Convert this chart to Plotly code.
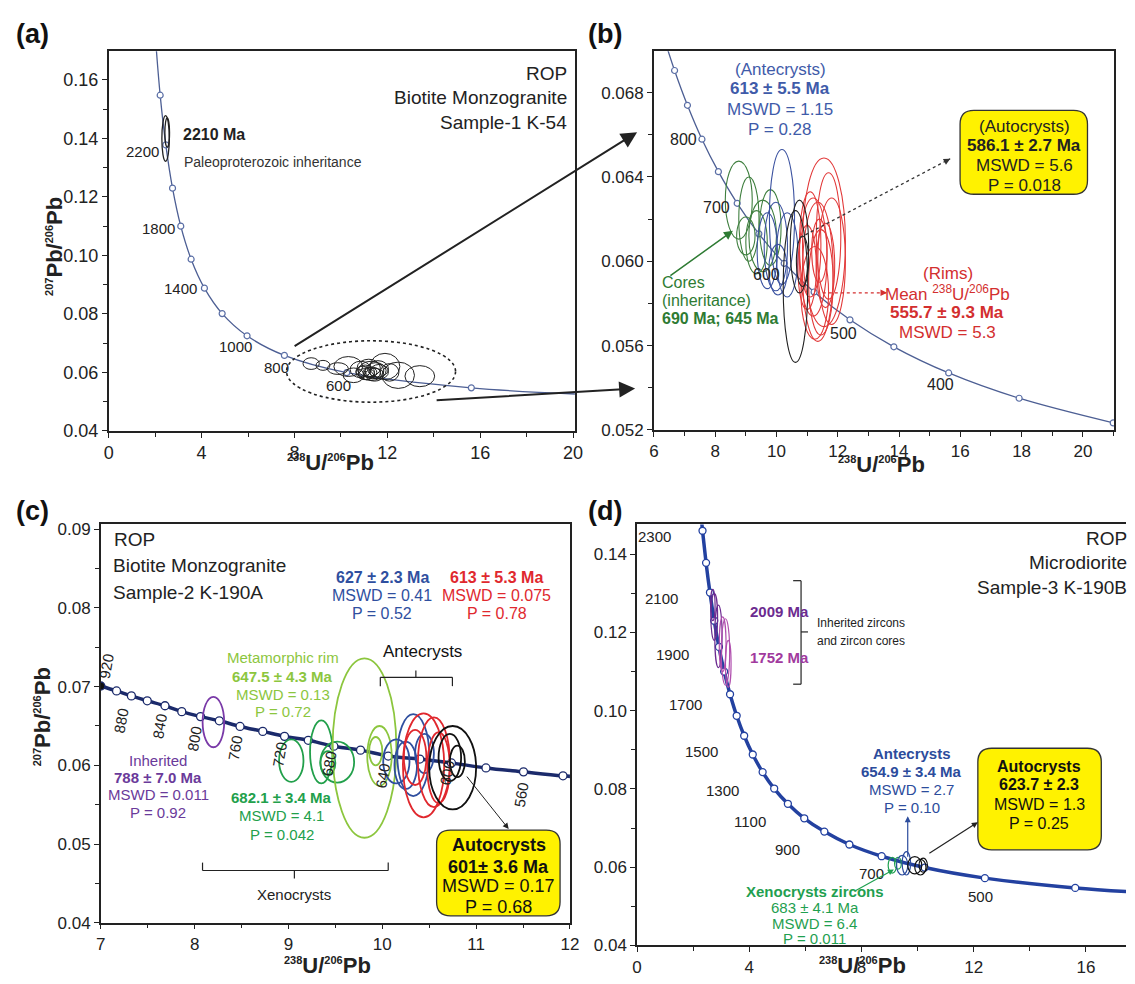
import plotly.graph_objects as go

W, H = 1135, 984
FONT = "Arial, Liberation Sans, Helvetica, sans-serif"

# ---------------- concordia reference points: age (Ma), 238U/206Pb, 207Pb/206Pb ----------------
conc_a_age = [2600, 2400, 2200, 2000, 1800, 1600, 1400, 1200, 1000, 800, 600, 400, 300]
conc_a_x = [2.013, 2.217, 2.459, 2.749, 3.104, 3.550, 4.123, 4.887, 5.959, 7.568, 10.252, 15.62, 20.99]
conc_a_y = [0.1744, 0.1548, 0.1378, 0.1230, 0.1100, 0.0987, 0.0888, 0.0801, 0.0725, 0.0658, 0.0599, 0.0547, 0.0523]

conc_b_age = [950, 900, 850, 800, 750, 700, 650, 600, 550, 500, 450, 400, 350, 300]
conc_b_x = [6.298, 6.675, 7.095, 7.568, 8.105, 8.718, 9.426, 10.252, 11.228, 12.399, 13.831, 15.62, 17.92, 20.99]
conc_b_y = [0.07074, 0.06905, 0.06740, 0.06579, 0.06425, 0.06275, 0.06130, 0.05990, 0.05854,
            0.05722, 0.05594, 0.05470, 0.05350, 0.05233]

conc_c_age = [920, 900, 880, 860, 840, 820, 800, 780, 760, 740, 720, 700, 680, 660, 640, 620, 600, 580, 560, 540, 520]
conc_c_x = [7.000, 7.168, 7.326, 7.495, 7.684, 7.863, 8.063, 8.263, 8.484, 8.726, 8.958, 9.211, 9.484,
            9.768, 10.063, 10.400, 10.737, 11.105, 11.505, 11.926, 12.350]
conc_c_y = [0.07008, 0.06945, 0.06882, 0.06820, 0.06757, 0.06682, 0.06619, 0.06566, 0.06494, 0.06431,
            0.06368, 0.06318, 0.06243, 0.06193, 0.06118, 0.06080, 0.06030, 0.05967, 0.05917, 0.05867, 0.05830]

conc_d_age = [2500, 2400, 2300, 2200, 2100, 2000, 1900, 1800, 1700, 1600, 1500, 1400, 1300, 1200,
              1100, 1000, 900, 800, 700, 600, 500, 400, 300]
conc_d_x = [2.111, 2.217, 2.332, 2.459, 2.597, 2.749, 2.917, 3.104, 3.314, 3.550, 3.817, 4.123, 4.475,
            4.887, 5.375, 5.959, 6.675, 7.568, 8.718, 10.252, 12.399, 15.62, 20.99]
conc_d_y = [0.1643, 0.1548, 0.1460, 0.1378, 0.1302, 0.1230, 0.1163, 0.1100, 0.1042, 0.0987, 0.0936,
            0.0888, 0.0843, 0.0801, 0.0762, 0.0725, 0.0691, 0.0658, 0.0628, 0.0599, 0.0572, 0.0547, 0.0523]

# ---------------- error ellipses: centre x, centre y, half-width, half-height ----------------
# (a) Sample-1 K-54
a_inh_cx = [2.45, 2.52]
a_inh_cy = [0.1400, 0.1420]
a_inh_rx = [0.16, 0.10]
a_inh_ry = [0.0078, 0.0050]

a_cx = [8.72, 9.23, 9.87, 10.32, 10.55, 10.85, 11.05, 11.20, 11.35, 11.50, 11.65, 11.10, 11.30, 11.45,
        11.90, 12.47, 13.40, 10.95, 11.60, 11.25, 12.10]
a_cy = [0.0630, 0.0624, 0.0613, 0.0620, 0.0590, 0.0610, 0.0600, 0.0615, 0.0598, 0.0606, 0.0602, 0.0595,
        0.0605, 0.0592, 0.0620, 0.0590, 0.0587, 0.0603, 0.0612, 0.0600, 0.0600]
a_rx = [0.35, 0.30, 0.45, 0.62, 0.45, 0.45, 0.40, 0.50, 0.35, 0.45, 0.40, 0.35, 0.55, 0.40, 0.64, 0.70,
        0.64, 0.30, 0.45, 0.30, 0.40]
a_ry = [0.0020, 0.0017, 0.0020, 0.0034, 0.0025, 0.0028, 0.0025, 0.0030, 0.0020, 0.0027, 0.0025, 0.0020,
        0.0033, 0.0022, 0.0045, 0.0045, 0.0036, 0.0018, 0.0028, 0.0018, 0.0030]

# (b) zoom of Sample-1
b_core_cx = [8.77, 9.10, 9.55, 9.00, 9.35, 9.80]
b_core_cy = [0.0629, 0.0620, 0.0612, 0.0612, 0.0609, 0.0616]
b_core_rx = [0.44, 0.33, 0.45, 0.30, 0.35, 0.35]
b_core_ry = [0.00185, 0.0020, 0.0017, 0.0009, 0.0015, 0.0018]

b_ante_cx = [10.18, 9.98, 9.70, 10.35, 10.05]
b_ante_cy = [0.0621, 0.0607, 0.0605, 0.0603, 0.0596]
b_ante_rx = [0.41, 0.38, 0.33, 0.35, 0.30]
b_ante_ry = [0.0032, 0.0021, 0.0018, 0.0020, 0.0012]

b_auto_cx = [10.62, 10.75, 10.85]
b_auto_cy = [0.0588, 0.0607, 0.0600]
b_auto_rx = [0.40, 0.30, 0.20]
b_auto_ry = [0.0036, 0.0022, 0.0012]

b_rim_cx = [11.55, 11.80, 11.20, 11.35, 11.10, 11.45, 11.60, 11.00, 11.25, 11.70, 11.40]
b_rim_cy = [0.0609, 0.0600, 0.0602, 0.0595, 0.0608, 0.0590, 0.0598, 0.0597, 0.0585, 0.0612, 0.0605]
b_rim_rx = [0.70, 0.45, 0.45, 0.50, 0.35, 0.40, 0.30, 0.30, 0.45, 0.40, 0.25]
b_rim_ry = [0.0040, 0.0030, 0.0028, 0.0033, 0.0025, 0.0025, 0.0020, 0.0020, 0.0022, 0.0030, 0.0015]

# (c) Sample-2 K-190A
c_inh_cx, c_inh_cy, c_inh_rx, c_inh_ry = [8.20], [0.0655], [0.115], [0.0032]
c_xen_cx = [9.03, 9.35, 9.52, 9.42]
c_xen_cy = [0.0606, 0.0617, 0.0604, 0.0603]
c_xen_rx = [0.13, 0.12, 0.18, 0.08]
c_xen_ry = [0.0027, 0.0040, 0.0026, 0.0015]
c_met_cx = [9.81, 9.97, 9.93]
c_met_cy = [0.0622, 0.0612, 0.0618]
c_met_rx = [0.34, 0.13, 0.07]
c_met_ry = [0.0114, 0.0038, 0.0018]
c_bl_cx = [10.15, 10.33, 10.25, 10.45]
c_bl_cy = [0.0605, 0.0613, 0.0600, 0.0615]
c_bl_rx = [0.14, 0.17, 0.12, 0.10]
c_bl_ry = [0.0028, 0.0052, 0.0030, 0.0025]
c_rd_cx = [10.44, 10.55, 10.35, 10.60]
c_rd_cy = [0.0600, 0.0604, 0.0610, 0.0597]
c_rd_rx = [0.22, 0.17, 0.12, 0.12]
c_rd_ry = [0.0066, 0.0057, 0.0035, 0.0045]
c_au_cx = [10.75, 10.72, 10.80]
c_au_cy = [0.0597, 0.0610, 0.0605]
c_au_rx = [0.25, 0.12, 0.08]
c_au_ry = [0.0053, 0.0030, 0.0020]

# (d) Sample-3 K-190B
d_p1_cx = [2.75, 2.90, 2.70]
d_p1_cy = [0.1240, 0.1190, 0.1270]
d_p1_rx = [0.12, 0.13, 0.08]
d_p1_ry = [0.0060, 0.0080, 0.0040]
d_p2_cx = [3.05, 3.15, 3.25]
d_p2_cy = [0.1170, 0.1150, 0.1120]
d_p2_rx = [0.12, 0.15, 0.10]
d_p2_ry = [0.0070, 0.0085, 0.0060]
d_xen_cx = [9.10, 9.30]
d_xen_cy = [0.0605, 0.0610]
d_xen_rx = [0.15, 0.12]
d_xen_ry = [0.0020, 0.0015]
d_ant_cx = [9.45, 9.60]
d_ant_cy = [0.0605, 0.0610]
d_ant_rx = [0.20, 0.15]
d_ant_ry = [0.0025, 0.0030]
d_aut_cx = [9.90, 10.10, 10.20]
d_aut_cy = [0.0605, 0.0600, 0.0605]
d_aut_rx = [0.25, 0.20, 0.15]
d_aut_ry = [0.0022, 0.0020, 0.0018]

# ---------------------------------------------------------------------------------------------
fig = go.Figure()
shapes, annots = [], []


def P(xp, yp):
    """pixel position on the page -> paper coordinates"""
    return xp / W, 1 - yp / H


def ellipses(ax, cx, cy, rx, ry, color, width=1.2, dash=None):
    for x, y, a, b in zip(cx, cy, rx, ry):
        shapes.append(dict(type="circle", xref="x" + ax, yref="y" + ax,
                           x0=x - a, x1=x + a, y0=y - b, y1=y + b,
                           line=dict(color=color, width=width, dash=dash)))


def text(xp, yp, s, size=17, color="#222", bold=False, anchor="center", angle=0):
    x, y = P(xp, yp)
    annots.append(dict(xref="paper", yref="paper", x=x, y=y, text=f"<b>{s}</b>" if bold else s,
                       showarrow=False, xanchor=anchor, yanchor="middle", textangle=angle,
                       font=dict(family=FONT, size=size, color=color)))


def arrow(x0, y0, x1, y1, color="#222", width=1.2, head=2, size=1.0):
    x, y = P(x1, y1)
    annots.append(dict(xref="paper", yref="paper", x=x, y=y, ax=x0 - x1, ay=y0 - y1,
                       axref="pixel", ayref="pixel", text="", showarrow=True, arrowhead=head,
                       arrowsize=size, arrowwidth=width, arrowcolor=color, standoff=0))


def dotted_arrow(x0, y0, x1, y1, color, size=1.0):
    a, b = P(x0, y0)
    c, d = P(x1, y1)
    shapes.append(dict(type="line", xref="paper", yref="paper", x0=a, y0=b, x1=c, y1=d,
                       line=dict(color=color, width=1.3, dash="dot")))
    L = ((x1 - x0) ** 2 + (y1 - y0) ** 2) ** 0.5
    ux, uy = (x1 - x0) / L, (y1 - y0) / L
    arrow(x1 - 6 * ux, y1 - 6 * uy, x1, y1, color, 1.3, 2, size)


def seg(x0, y0, x1, y1, color="#222", width=1.2):
    a, b = P(x0, y0)
    c, d = P(x1, y1)
    shapes.append(dict(type="line", xref="paper", yref="paper", x0=a, y0=b, x1=c, y1=d,
                       line=dict(color=color, width=width)))


def rbox(x0, y0, x1, y1, r=12, fill="#fff200"):
    def p(x, y):
        u, v = P(x, y)
        return f"{u:.5f},{v:.5f}"
    path = (f"M {p(x0 + r, y0)} L {p(x1 - r, y0)} Q {p(x1, y0)} {p(x1, y0 + r)} "
            f"L {p(x1, y1 - r)} Q {p(x1, y1)} {p(x1 - r, y1)} L {p(x0 + r, y1)} "
            f"Q {p(x0, y1)} {p(x0, y1 - r)} L {p(x0, y0 + r)} Q {p(x0, y0)} {p(x0 + r, y0)} Z")
    shapes.append(dict(type="path", xref="paper", yref="paper", path=path,
                       fillcolor=fill, line=dict(color="#333", width=1.3)))


def age_labels(ax, ages, xs, ys, offsets, size=15, angle=0):
    for age, x, y in zip(ages, xs, ys):
        if age in offsets:
            dx, dy, anc = offsets[age]
            annots.append(dict(xref="x" + ax, yref="y" + ax, x=x, y=y, text=str(age), showarrow=False,
                               xanchor=anc, yanchor="middle", xshift=dx, yshift=-dy, textangle=angle,
                               font=dict(family=FONT, size=size, color="#222")))


# ---------------- concordia curves ----------------
fig.add_trace(go.Scatter(x=conc_a_x, y=conc_a_y, xaxis="x", yaxis="y", mode="lines+markers",
                         line=dict(color="#4d5f94", width=1.3, shape="spline"),
                         marker=dict(size=6, color="white", line=dict(color="#5b6fa6", width=1.2)),
                         hoverinfo="skip"))
fig.add_trace(go.Scatter(x=conc_b_x, y=conc_b_y, xaxis="x2", yaxis="y2", mode="lines+markers",
                         line=dict(color="#4d5f94", width=1.3, shape="spline"),
                         marker=dict(size=6, color="white", line=dict(color="#5b6fa6", width=1.2)),
                         hoverinfo="skip"))
fig.add_trace(go.Scatter(x=conc_c_x, y=conc_c_y, xaxis="x3", yaxis="y3", mode="lines+markers",
                         line=dict(color="#1b2a6b", width=3.5, shape="spline"),
                         marker=dict(size=8, color=["#111"] + ["white"] * (len(conc_c_x) - 1),
                                     line=dict(color="#1b2a6b", width=1.3)),
                         hoverinfo="skip"))
fig.add_trace(go.Scatter(x=conc_d_x, y=conc_d_y, xaxis="x4", yaxis="y4", mode="lines+markers",
                         line=dict(color="#2341a0", width=3.5, shape="spline"),
                         marker=dict(size=7, color="white", line=dict(color="#2341a0", width=1.3)),
                         hoverinfo="skip"))

# ---------------- ellipses ----------------
ellipses("", a_inh_cx, a_inh_cy, a_inh_rx, a_inh_ry, "#222", 1.3)
ellipses("", a_cx, a_cy, a_rx, a_ry, "#222", 1.0)
ellipses("", [11.3], [0.0603], [3.64], [0.0105], "#222", 1.6, "dot")

ellipses("2", b_core_cx, b_core_cy, b_core_rx, b_core_ry, "#3f7f3f", 1.1)
ellipses("2", b_ante_cx, b_ante_cy, b_ante_rx, b_ante_ry, "#3b52a0", 1.1)
ellipses("2", b_rim_cx, b_rim_cy, b_rim_rx, b_rim_ry, "#e23a3a", 1.1)
ellipses("2", b_auto_cx, b_auto_cy, b_auto_rx, b_auto_ry, "#222", 1.1)

ellipses("3", c_inh_cx, c_inh_cy, c_inh_rx, c_inh_ry, "#7a3aa8", 1.8)
ellipses("3", c_xen_cx, c_xen_cy, c_xen_rx, c_xen_ry, "#22a04b", 1.8)
ellipses("3", c_met_cx, c_met_cy, c_met_rx, c_met_ry, "#8cc63e", 1.8)
ellipses("3", c_bl_cx, c_bl_cy, c_bl_rx, c_bl_ry, "#2f4f9f", 1.8)
ellipses("3", c_rd_cx, c_rd_cy, c_rd_rx, c_rd_ry, "#e0282e", 1.8)
ellipses("3", c_au_cx, c_au_cy, c_au_rx, c_au_ry, "#111", 1.8)

ellipses("4", d_p1_cx, d_p1_cy, d_p1_rx, d_p1_ry, "#6c2b90", 1.2)
ellipses("4", d_p2_cx, d_p2_cy, d_p2_rx, d_p2_ry, "#b04fae", 1.2)
ellipses("4", d_xen_cx, d_xen_cy, d_xen_rx, d_xen_ry, "#1fa050", 1.2)
ellipses("4", d_ant_cx, d_ant_cy, d_ant_rx, d_ant_ry, "#2c4c9c", 1.2)
ellipses("4", d_aut_cx, d_aut_cy, d_aut_rx, d_aut_ry, "#111", 1.2)

# ---------------- concordia age labels ----------------
age_labels("", conc_a_age, conc_a_x, conc_a_y,
           {2200: (-5, 7, "right"), 1800: (-4, 2, "right"), 1400: (-5, 0, "right"),
            1000: (-12, 11, "center"), 800: (-8, 12, "center"), 600: (-8, 13, "center")}, 15)
age_labels("2", conc_b_age, conc_b_x, conc_b_y,
           {800: (-3, 0, "right"), 700: (-5, 4, "right"), 600: (-2, 11, "right"),
            500: (-6, 14, "center"), 400: (-8, 12, "center")}, 16)
age_labels("3", conc_c_age, conc_c_x, conc_c_y,
           {920: (6, -20, "center"), 880: (-10, 25, "center"), 840: (-5, 20, "center"),
            800: (-6, 22, "center"), 760: (-5, 22, "center"), 720: (-5, 18, "center"),
            680: (-5, 17, "center"), 640: (-6, 20, "center"), 600: (-4, 10, "center"),
            560: (-2, 23, "center")}, 15, -80)
age_labels("4", conc_d_age, conc_d_x, conc_d_y,
           {2300: (-30, 6, "right"), 2100: (-30, 6, "right"), 1900: (-28, 8, "right"),
            1700: (-26, 10, "right"), 1500: (-24, 16, "right"), 1300: (-22, 18, "right"),
            1100: (-20, 18, "right"), 900: (-22, 18, "right"), 700: (-10, 17, "center"),
            500: (-4, 18, "center")}, 15)

# ---------------- panel (a) text ----------------
text(28, 30, "(a)", 27, "#111", True)
text(178, 132, "2210 Ma", 16, "#222", True, "left")
text(179, 160, "Paleoproterozoic inheritance", 14, "#333", False, "left")
text(571, 70, "ROP", 19, "#222", False, "right")
text(571, 95, "Biotite Monzogranite", 19, "#222", False, "right")
text(571, 120, "Sample-1 K-54", 19, "#222", False, "right")
arrow(296, 345, 640, 130, "#222", 2, 2, 1.6)
arrow(438, 402, 638, 390, "#222", 2, 2, 1.6)

# ---------------- panel (b) text ----------------
text(607, 30, "(b)", 27, "#111", True)
BL, RD, GR = "#3f5ba9", "#d32f2f", "#2e7b33"
text(785, 66, "(Antecrysts)", 17, BL)
text(785, 86, "613 ± 5.5 Ma", 17, BL, True)
text(785, 107, "MSWD = 1.15", 17, BL)
text(785, 127, "P = 0.28", 17, BL)
rbox(967, 108, 1096, 193, 14)
text(1032, 124, "(Autocrysts)", 17, "#222")
text(1032, 144, "586.1 ± 2.7 Ma", 17, "#222", True)
text(1032, 164, "MSWD = 5.6", 17, "#222")
text(1032, 184, "P = 0.018", 17, "#222")
dotted_arrow(805, 237, 957, 157, "#333")
dotted_arrow(828, 293, 893, 293, RD)
text(955, 273, "(Rims)", 17, RD)
text(954, 293, "Mean <sup>238</sup>U/<sup>206</sup>Pb", 17, RD)
text(954, 313, "555.7 ± 9.3 Ma", 17, RD, True)
text(954, 333, "MSWD = 5.3", 17, RD)
text(663, 283, "Cores", 16, GR, False, "left")
text(663, 301, "(inheritance)", 16, GR, False, "left")
text(663, 319, "690 Ma; 645 Ma", 16, GR, True, "left")
arrow(673, 276, 737, 230, GR, 1.5, 2, 1.2)

# ---------------- panel (c) text ----------------
text(28, 514, "(c)", 27, "#111", True)
text(108, 543, "ROP", 19, "#222", False, "left")
text(107, 570, "Biotite Monzogranite", 19, "#222", False, "left")
text(107, 597, "Sample-2 K-190A", 19, "#222", False, "left")
CB, CR, LG, CG, PU = "#2f4f9f", "#e0282e", "#8cc63e", "#22a04b", "#6a3a9a"
text(382, 582, "627 ± 2.3 Ma", 16, CB, True)
text(382, 600, "MSWD = 0.41", 16, CB)
text(382, 618, "P = 0.52", 16, CB)
text(498, 582, "613 ± 5.3 Ma", 16, CR, True)
text(498, 600, "MSWD = 0.075", 16, CR)
text(498, 618, "P = 0.78", 16, CR)
text(423, 657, "Antecrysts", 17, "#111")
seg(380, 683, 453, 683)
seg(380, 683, 380, 692)
seg(453, 683, 453, 692)
seg(416, 683, 416, 676)
text(281, 663, "Metamorphic rim", 15, LG)
text(281, 682, "647.5 ± 4.3 Ma", 15, LG, True)
text(281, 700, "MSWD = 0.13", 15, LG)
text(281, 718, "P = 0.72", 15, LG)
text(155, 767, "Inherited", 15, PU)
text(155, 785, "788 ± 7.0 Ma", 15, PU, True)
text(155, 802, "MSWD = 0.011", 15, PU)
text(155, 820, "P = 0.92", 15, PU)
text(280, 805, "682.1 ± 3.4 Ma", 15, CG, True)
text(280, 823, "MSWD = 4.1", 15, CG)
text(280, 842, "P = 0.042", 15, CG)
seg(200, 879, 388, 879)
seg(200, 879, 200, 871)
seg(388, 879, 388, 871)
seg(293, 879, 293, 887)
text(293, 903, "Xenocrysts", 15, "#222")
rbox(437, 838, 562, 925, 14)
text(500, 853, "Autocrysts", 18, "#111", True)
text(500, 875, "601± 3.6 Ma", 18, "#111", True)
text(500, 895, "MSWD = 0.17", 18, "#111")
text(500, 916, "P = 0.68", 18, "#111")
arrow(467, 783, 510, 837, "#222", 1.0, 2, 1.2)

# ---------------- panel (d) text ----------------
text(607, 514, "(d)", 27, "#111", True)
text(1138, 542, "ROP", 19, "#222", False, "right")
text(1138, 567, "Microdiorite", 19, "#222", False, "right")
text(1138, 592, "Sample-3 K-190B", 19, "#222", False, "right")
text(752, 616, "2009 Ma", 15, "#6c2b90", True, "left")
text(752, 663, "1752 Ma", 15, "#a13a9e", True, "left")
seg(806, 585, 806, 690)
seg(806, 585, 798, 585)
seg(806, 690, 798, 690)
seg(806, 637, 813, 637)
text(820, 628, "Inherited zircons", 12, "#222", False, "left")
text(820, 646, "and zircon cores", 12, "#222", False, "left")
DB, DG = "#2c4c9c", "#1fa050"
text(918, 760, "Antecrysts", 15, DB, True)
text(918, 779, "654.9 ± 3.4 Ma", 15, DB, True)
text(918, 797, "MSWD = 2.7", 15, DB)
text(918, 815, "P = 0.10", 15, DB)
arrow(914, 866, 914, 824, DB, 1.2, 2, 1.0)
rbox(985, 755, 1110, 858, 14)
text(1047, 773, "Autocrysts", 16, "#111", True)
text(1047, 792, "623.7 ± 2.3", 16, "#111", True)
text(1047, 812, "MSWD = 1.3", 16, "#111")
text(1047, 831, "P = 0.25", 16, "#111")
arrow(935, 862, 985, 830, "#222", 1.2, 2, 1.0)
text(820, 900, "Xenocrysts zircons", 15, DG, True)
text(820, 917, "683 ± 4.1 Ma", 15, DG)
text(820, 933, "MSWD = 6.4", 15, DG)
text(820, 948, "P = 0.011", 15, DG)
arrow(860, 900, 900, 878, DG, 1.2, 2, 1.0)

# ---------------- axis titles ----------------
SUP = "<sup><span style='font-size:11px'>{}</span></sup>"
XT = "<b>" + SUP.format("238") + "U/" + SUP.format("206") + "Pb</b>"
YT = "<b>" + SUP.format("207") + "Pb/" + SUP.format("206") + "Pb</b>"
text(330, 465, XT, 22)
text(887, 467, XT, 22)
text(327, 975, XT, 22)
text(868, 975, XT, 22)
text(50, 246, YT, 22, angle=-90)
text(38, 723, YT, 22, angle=-90)


# ---------------- axes ----------------
def axis(dom, rng, t0, dt, mdt, anchor, fmt=None, size=17, mirror=True):
    d = dict(domain=dom, range=rng, tick0=t0, dtick=dt, anchor=anchor, showgrid=False, zeroline=False,
             showline=True, linecolor="#222", linewidth=1.5, mirror=mirror, ticks="outside",
             ticklen=5, tickwidth=1.2, tickcolor="#222",
             tickfont=dict(family=FONT, size=size, color="#222"),
             minor=dict(tick0=t0, dtick=mdt, ticks="outside", ticklen=4, tickwidth=1, tickcolor="#222",
                        showgrid=False))
    if fmt:
        d["tickformat"] = fmt
    return d


xa, ya = P(105, 433), P(577, 48)
xb, yb = P(657, 432), P(1123, 48)
xc, yc = P(97, 932), P(572, 528)
xd, yd = P(640, 955), P(1135, 528)

fig.update_layout(
    width=W, height=H, margin=dict(l=0, r=0, t=0, b=0),
    paper_bgcolor="white", plot_bgcolor="white", showlegend=False,
    xaxis=axis([xa[0], ya[0]], [0, 20.08], 0, 4, 2, "y", size=18),
    yaxis=axis([xa[1], ya[1]], [0.04, 0.1698], 0.04, 0.02, 0.01, "x", ".2f", 18),
    xaxis2=axis([xb[0], yb[0]], [6, 21.02], 6, 2, 1, "y2"),
    yaxis2=axis([xb[1], yb[1]], [0.052, 0.06996], 0.052, 0.004, 0.002, "x2", ".3f"),
    xaxis3=axis([xc[0], yc[0]], [7, 12], 7, 1, 0.5, "y3"),
    yaxis3=axis([xc[1], yc[1]], [0.04, 0.0906], 0.04, 0.01, 0.005, "x3", ".2f"),
    xaxis4=axis([xd[0], 1.0], [0, 17.43], 0, 4, 2, "y4"),
    yaxis4=axis([xd[1], yd[1]], [0.04, 0.1476], 0.04, 0.02, 0.01, "x4", ".2f", mirror=False),
    shapes=shapes, annotations=annots,
)
fig.update_layout(xaxis4=dict(mirror=True))

fig.write_html("out.html")
